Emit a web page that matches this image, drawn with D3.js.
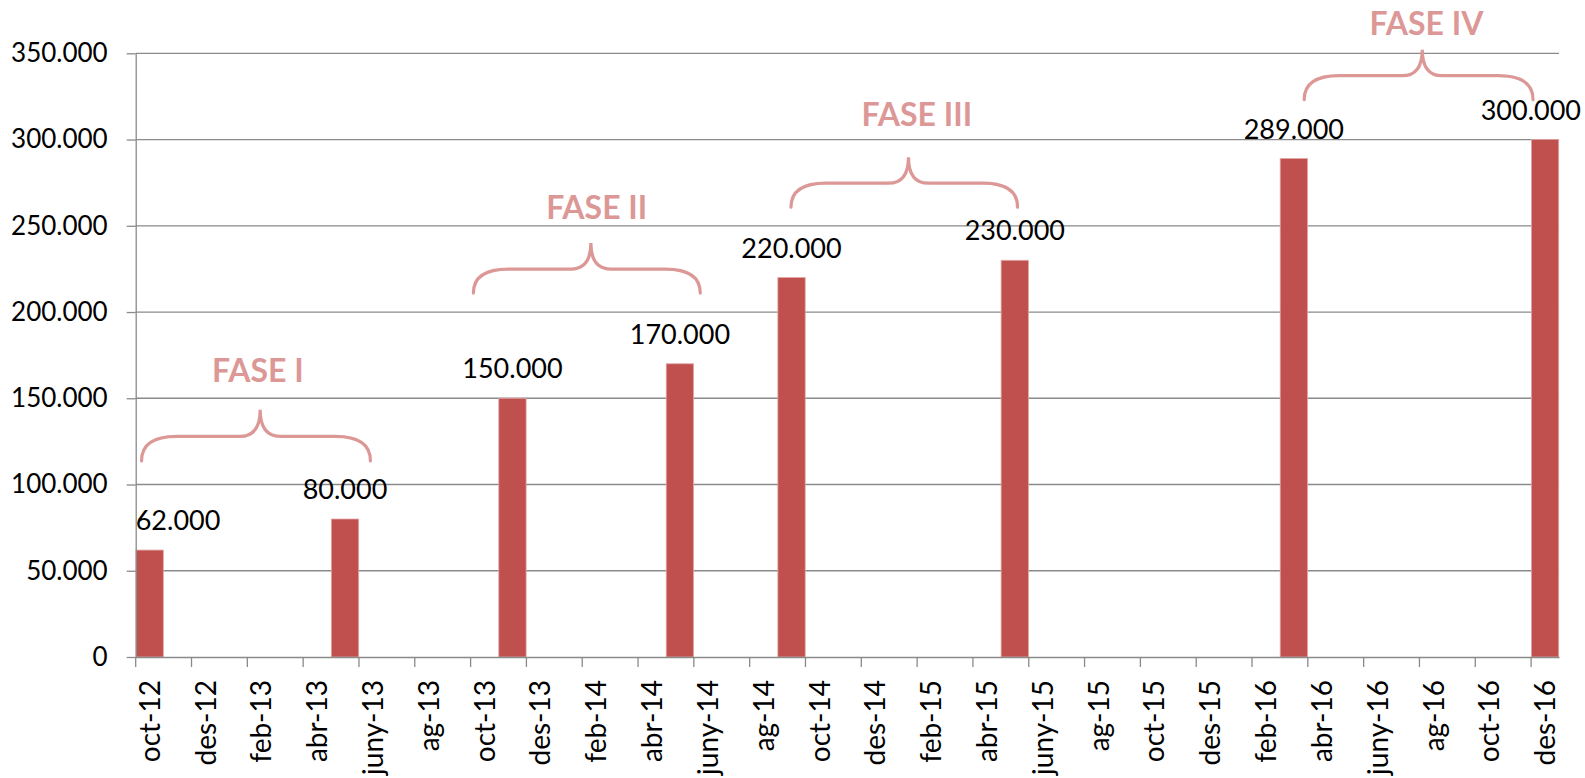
<!DOCTYPE html>
<html>
<head>
<meta charset="utf-8">
<script src="https://cdn.jsdelivr.net/npm/d3@7"></script>
<style>
  html, body { margin: 0; padding: 0; background: #ffffff; }
  svg { display: block; font-family: Lato, "Open Sans", sans-serif; }
</style>
</head>
<body>
<svg id="chart" width="1585" height="778"></svg>
<script>
// ---- data ----
const months = ["oct-12","nov-12","des-12",
  "gen-13","feb-13","març-13","abr-13","maig-13","juny-13","jul-13","ag-13","set-13","oct-13","nov-13","des-13",
  "gen-14","feb-14","març-14","abr-14","maig-14","juny-14","jul-14","ag-14","set-14","oct-14","nov-14","des-14",
  "gen-15","feb-15","març-15","abr-15","maig-15","juny-15","jul-15","ag-15","set-15","oct-15","nov-15","des-15",
  "gen-16","feb-16","març-16","abr-16","maig-16","juny-16","jul-16","ag-16","set-16","oct-16","nov-16","des-16"];
const tickLabels = ["oct-12","des-12","feb-13","abr-13","juny-13","ag-13","oct-13","des-13","feb-14","abr-14",
  "juny-14","ag-14","oct-14","des-14","feb-15","abr-15","juny-15","ag-15","oct-15","des-15",
  "feb-16","abr-16","juny-16","ag-16","oct-16","des-16"];
const barMonths = ["oct-12","maig-13","nov-13","maig-14","set-14","maig-15","març-16","des-16"];
const barValues = [62000, 80000, 150000, 170000, 220000, 230000, 289000, 300000];
const yTicks = [0, 50000, 100000, 150000, 200000, 250000, 300000, 350000];

// phase annotations (positions in month-index units and data values)
const phaseNames     = ["FASE I", "FASE II", "FASE III", "FASE IV"];
const phaseFrom      = [0.21, 12.10, 23.48, 41.87];
const phaseTo        = [8.41, 20.23, 31.60, 50.07];
const phaseTip       = [4.46, 16.31, 27.69, 46.10];
const phaseBaseValue = [113700, 211000, 260800, 323100];
const phaseTipValue  = [143300, 240000, 289800, 352100];
const phaseTextX     = [4.38, 16.52, 27.99, 46.25];
const phaseTextValue = [159700, 253900, 307600, 360800];

// ---- layout ----
const W = 1585, H = 778;
const plotLeft = 135.7, plotRight = 1559, plotTop = 53.3, plotBottom = 657;
const gridColor = "#8a8a8a";
const barColor = "#c0504d";
const pink = "#dc9896";

const svg = d3.select("#chart");

const x = d3.scaleBand().domain(months).range([plotLeft, plotRight]).paddingInner(0.02).paddingOuter(0.01);
const xi = d3.scaleLinear().domain([0, months.length]).range([plotLeft, plotRight]);
const y = d3.scaleLinear().domain([0, 350000]).range([plotBottom, plotTop]);

// gridlines
svg.append("g").selectAll("line").data(yTicks.filter(d => d > 0)).join("line")
  .attr("x1", plotLeft).attr("x2", plotRight)
  .attr("y1", d => y(d)).attr("y2", d => y(d))
  .attr("stroke", gridColor).attr("stroke-width", 1.3);

// bars
const data = barMonths.map((m, i) => ({ m, v: barValues[i] }));
svg.append("g").selectAll("rect").data(data).join("rect")
  .attr("x", d => x(d.m)).attr("width", x.bandwidth())
  .attr("y", d => y(d.v)).attr("height", d => y(0) - y(d.v))
  .attr("fill", barColor).attr("stroke", "#e3a8a6").attr("stroke-width", 0.8);

// y axis
const fmt = d => d === 0 ? "0" : d3.format(",")(d).replace(/,/g, ".");
const yAxis = svg.append("g").attr("transform", `translate(${plotLeft},0)`)
  .call(d3.axisLeft(y).tickValues(yTicks).tickFormat(fmt).tickSize(9).tickPadding(19).tickSizeOuter(0));
yAxis.selectAll("path, line").attr("stroke", gridColor).attr("stroke-width", 1.3);
yAxis.selectAll("text").attr("font-size", 26).attr("fill", "#000").style("font-family", "Lato");

// x axis
const xAxis = svg.append("g").attr("transform", `translate(0,${plotBottom})`)
  .call(d3.axisBottom(x).tickValues(tickLabels).tickSize(10).tickSizeOuter(0));
xAxis.select(".domain").attr("stroke", gridColor).attr("stroke-width", 1.3);
xAxis.selectAll(".tick line")
  .attr("x1", -x.step() / 2).attr("x2", -x.step() / 2)
  .attr("stroke", gridColor).attr("stroke-width", 1.3);
xAxis.selectAll(".tick text")
  .attr("transform", "rotate(-90)")
  .attr("text-anchor", "end")
  .attr("x", -23).attr("y", 0).attr("dy", "0.36em")
  .attr("font-size", 28).attr("fill", "#000").style("font-family", "Lato");

// data labels
const labels = svg.append("g").selectAll("text").data(data).join("text")
  .attr("x", d => x(d.m) + x.bandwidth() / 2)
  .attr("y", d => y(d.v) - 20)
  .attr("text-anchor", "middle")
  .attr("font-size", 27).attr("fill", "#000")
  .text(d => fmt(d.v));
labels.each(function() {
  const t = d3.select(this);
  const w = this.getComputedTextLength();
  let cx = +t.attr("x");
  if (cx - w / 2 < plotLeft) cx = plotLeft + w / 2;
  if (cx + w / 2 > W - 4) cx = W - 4 - w / 2;
  t.attr("x", cx);
});

// phase braces
const braces = svg.append("g");
phaseNames.forEach((name, i) => {
  const x0 = xi(phaseFrom[i]), x1 = xi(phaseTo[i]), xc = xi(phaseTip[i]);
  const yb = y(phaseBaseValue[i]), yt = y(phaseTipValue[i]);
  const ym = yt + (yb - yt) * 0.52;
  const r = 35, rc = 20;
  const p = d3.path();
  p.moveTo(x0, yb);
  p.quadraticCurveTo(x0, ym, x0 + r, ym);
  p.lineTo(xc - rc, ym);
  p.quadraticCurveTo(xc, ym, xc, yt);
  p.quadraticCurveTo(xc, ym, xc + rc, ym);
  p.lineTo(x1 - r, ym);
  p.quadraticCurveTo(x1, ym, x1, yb);
  braces.append("path").attr("d", p.toString())
    .attr("fill", "none").attr("stroke", pink).attr("stroke-width", 3.2)
    .attr("stroke-linecap", "round");
  braces.append("text")
    .attr("x", xi(phaseTextX[i])).attr("y", y(phaseTextValue[i]))
    .attr("text-anchor", "middle")
    .attr("font-size", 32).attr("font-weight", "bold").attr("fill", pink)
    .text(name);
});
</script>
</body>
</html>
